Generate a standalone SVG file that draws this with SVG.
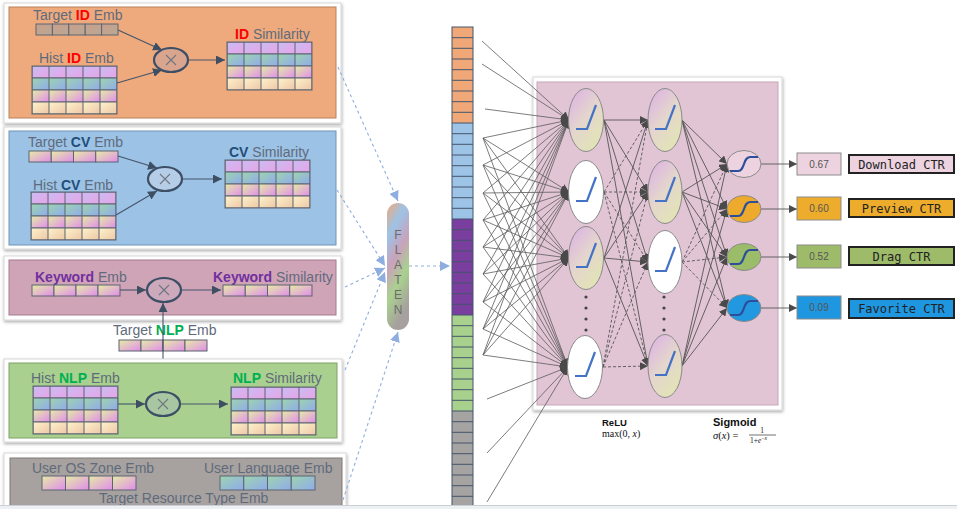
<svg xmlns="http://www.w3.org/2000/svg" width="957" height="509" viewBox="0 0 957 509">
<style>
  .lb{font-family:"Liberation Sans",Arial,sans-serif;font-size:14px;fill:#5f6b7c}
  .red{fill:#ff0000;font-weight:bold}
  .cv{fill:#1f4e79;font-weight:bold}
  .kw{fill:#7030a0;font-weight:bold}
  .nlp{fill:#00b050;font-weight:bold}
  .frame{fill:#ffffff;stroke:#d8d8d8;stroke-width:1}
  .cell{stroke:#5c6470;stroke-width:1}
  .mul{stroke:#3d4f66;stroke-width:2.2}
  .x{stroke:#6f7680;stroke-width:1.1;fill:none}
  .sl{stroke:#44546a;stroke-width:1.1;fill:none}
  .flow{stroke:#8eaee0;stroke-width:1.1;stroke-dasharray:3 3;fill:none}
  .in{stroke:#5c5c5c;stroke-width:0.8;fill:none}
  .hid{stroke:#555;stroke-width:0.9;fill:none}
  .dash{stroke-dasharray:3 2}
  .neu{stroke:#8a8a8a;stroke-width:1}
  .relu{stroke:#4472c4;stroke-width:2.2;fill:none}
  .sig{stroke:#2d4e9a;stroke-width:2.2;fill:none}
  .val{stroke:#8c8c8c;stroke-width:1}
  .vt{font-family:"Liberation Sans",Arial,sans-serif;font-size:10px;fill:#555;text-anchor:middle}
  .tag{stroke:#222;stroke-width:2}
  .tt{font-family:"DejaVu Sans Mono","Liberation Mono",monospace;font-size:12px;fill:#222;text-anchor:middle}
  .col{stroke:#44546a;stroke-width:1}
  .fl{font-family:"Liberation Sans",Arial,sans-serif;font-size:12px;fill:#6c6c6c;text-anchor:middle}
  .fm{font-family:"Liberation Serif","Times New Roman",serif;fill:#111}
</style>
<defs>
  <filter id="sh" x="-5%" y="-5%" width="110%" height="115%">
    <feDropShadow dx="0.5" dy="1.5" stdDeviation="1.5" flood-color="#000" flood-opacity="0.35"/>
  </filter>
  <linearGradient id="gA" x1="0" y1="0" x2="1" y2="1"><stop offset="0" stop-color="#c9bdf4"/><stop offset="1" stop-color="#e8a4e6"/></linearGradient>
  <linearGradient id="gB" x1="0" y1="0" x2="1" y2="1"><stop offset="0" stop-color="#9ed4ae"/><stop offset="1" stop-color="#8fabec"/></linearGradient>
  <linearGradient id="gC" x1="0" y1="0" x2="1" y2="1"><stop offset="0" stop-color="#e6eca6"/><stop offset="1" stop-color="#e08cea"/></linearGradient>
  <linearGradient id="gD" x1="0" y1="0" x2="1" y2="1"><stop offset="0" stop-color="#fdf3cb"/><stop offset="1" stop-color="#eec6a6"/></linearGradient>
  <linearGradient id="gT" x1="0" y1="0" x2="1" y2="1"><stop offset="0" stop-color="#c9a08c"/><stop offset="1" stop-color="#b8a894"/></linearGradient>
  <linearGradient id="gN" x1="0" y1="0" x2="0.7" y2="1"><stop offset="0" stop-color="#dcaee8"/><stop offset="0.55" stop-color="#e4d6cc"/><stop offset="1" stop-color="#e2e4b6"/></linearGradient>
  <linearGradient id="gPill" x1="0" y1="0" x2="0.3" y2="1">
    <stop offset="0" stop-color="#f0a878"/><stop offset="0.25" stop-color="#9dc3e6"/>
    <stop offset="0.5" stop-color="#c9a2bb"/><stop offset="0.72" stop-color="#a9d18e"/><stop offset="1" stop-color="#a6a09e"/>
  </linearGradient>
  <pattern id="grid" patternUnits="userSpaceOnUse" width="17" height="48">
    <rect x="0" y="0" width="17" height="12" fill="url(#gA)" class="cell"/>
    <rect x="0" y="12" width="17" height="12" fill="url(#gB)" class="cell"/>
    <rect x="0" y="24" width="17" height="12" fill="url(#gC)" class="cell"/>
    <rect x="0" y="36" width="17" height="12" fill="url(#gD)" class="cell"/>
  </pattern>
  <marker id="as" viewBox="0 0 10 10" refX="10" refY="5" markerWidth="9" markerHeight="9" markerUnits="userSpaceOnUse" orient="auto"><path d="M0,0 L10,5 L0,10 z" fill="#3f4f63"/></marker>
  <marker id="ab" viewBox="0 0 10 10" refX="10" refY="5" markerWidth="10" markerHeight="10" markerUnits="userSpaceOnUse" orient="auto"><path d="M0,0 L10,5 L0,10 z" fill="#8eaee0"/></marker>
  <marker id="ah" viewBox="0 0 10 10" refX="10" refY="5" markerWidth="8" markerHeight="8" markerUnits="userSpaceOnUse" orient="auto"><path d="M0,0 L10,5 L0,10 z" fill="#4a4a4a"/></marker>
</defs>

<rect width="957" height="509" fill="#ffffff"/>

<!-- ID similarity panel -->
<g id="panel-id">
  <rect class="frame" x="4" y="3" width="337" height="120" filter="url(#sh)"/>
  <rect x="9" y="7" width="327" height="111" fill="#eeaa7c" stroke="#b9805a" stroke-width="1"/>
  <text class="lb" x="33" y="20">Target <tspan class="red">ID</tspan> Emb</text>
  <g>
    <rect x="36" y="24" width="16.4" height="11" fill="url(#gT)" class="cell"/>
    <rect x="52.4" y="24" width="16.4" height="11" fill="url(#gT)" class="cell"/>
    <rect x="68.8" y="24" width="16.4" height="11" fill="url(#gT)" class="cell"/>
    <rect x="85.2" y="24" width="16.4" height="11" fill="url(#gT)" class="cell"/>
    <rect x="101.6" y="24" width="16.4" height="11" fill="url(#gT)" class="cell"/>
  </g>
  <text class="lb" x="39" y="63">Hist <tspan class="red">ID</tspan> Emb</text>
  <g transform="translate(32,66)"><rect width="85" height="48" fill="url(#grid)" class="cell"/></g>
  <ellipse class="mul" cx="171" cy="60" rx="17" ry="12" fill="#d9a58e"/>
  <path class="x" d="M166,55 L176,65 M176,55 L166,65"/>
  <text class="lb" x="235" y="39"><tspan class="red">ID</tspan> Similarity</text>
  <g transform="translate(227,42)"><rect width="85" height="48" fill="url(#grid)" class="cell"/></g>
  <line class="sl" x1="118" y1="30" x2="162" y2="50" marker-end="url(#as)"/>
  <line class="sl" x1="117" y1="83" x2="162" y2="70" marker-end="url(#as)"/>
  <line class="sl" x1="188" y1="60" x2="225" y2="60" marker-end="url(#as)"/>
</g>

<!-- CV similarity panel -->
<g id="panel-cv">
  <rect class="frame" x="4" y="127" width="337" height="122" filter="url(#sh)"/>
  <rect x="9" y="131" width="327" height="114" fill="#9cc2e5" stroke="#6f93b8" stroke-width="1"/>
  <text class="lb" x="28" y="147">Target <tspan class="cv">CV</tspan> Emb</text>
  <g>
    <rect x="29" y="151" width="22.25" height="11" fill="url(#gC)" class="cell"/>
    <rect x="51.25" y="151" width="22.25" height="11" fill="url(#gC)" class="cell"/>
    <rect x="73.5" y="151" width="22.25" height="11" fill="url(#gC)" class="cell"/>
    <rect x="95.75" y="151" width="22.25" height="11" fill="url(#gC)" class="cell"/>
  </g>
  <text class="lb" x="33" y="190">Hist <tspan class="cv">CV</tspan> Emb</text>
  <g transform="translate(31,192)"><rect width="85" height="48" fill="url(#grid)" class="cell"/></g>
  <ellipse class="mul" cx="165" cy="179" rx="17" ry="12" fill="#b6cde8"/>
  <path class="x" d="M160,174 L170,184 M170,174 L160,184"/>
  <text class="lb" x="229" y="157"><tspan class="cv">CV</tspan> Similarity</text>
  <g transform="translate(225,160)"><rect width="85" height="48" fill="url(#grid)" class="cell"/></g>
  <line class="sl" x1="118" y1="156" x2="157" y2="168" marker-end="url(#as)"/>
  <line class="sl" x1="116" y1="215" x2="157" y2="191" marker-end="url(#as)"/>
  <line class="sl" x1="182" y1="179" x2="222" y2="179" marker-end="url(#as)"/>
</g>

<!-- Keyword similarity panel -->
<g id="panel-keyword">
  <rect class="frame" x="4" y="256" width="337" height="64" filter="url(#sh)"/>
  <rect x="9" y="260" width="327" height="55" fill="#d0a4b7" stroke="#a67b8d" stroke-width="1"/>
  <text class="lb" x="35" y="282"><tspan class="kw">Keyword</tspan> Emb</text>
  <g>
    <rect x="32" y="285" width="22" height="11" fill="url(#gC)" class="cell"/>
    <rect x="54" y="285" width="22" height="11" fill="url(#gC)" class="cell"/>
    <rect x="76" y="285" width="22" height="11" fill="url(#gC)" class="cell"/>
    <rect x="98" y="285" width="22" height="11" fill="url(#gC)" class="cell"/>
  </g>
  <ellipse class="mul" cx="164" cy="290" rx="17" ry="12" fill="#cca9bb"/>
  <path class="x" d="M159,285 L169,295 M169,285 L159,295"/>
  <text class="lb" x="213" y="282"><tspan class="kw">Keyword</tspan> Similarity</text>
  <g>
    <rect x="223" y="285" width="22.25" height="11" fill="url(#gC)" class="cell"/>
    <rect x="245.25" y="285" width="22.25" height="11" fill="url(#gC)" class="cell"/>
    <rect x="267.5" y="285" width="22.25" height="11" fill="url(#gC)" class="cell"/>
    <rect x="289.75" y="285" width="22.25" height="11" fill="url(#gC)" class="cell"/>
  </g>
  <line class="sl" x1="120" y1="290" x2="146" y2="290" marker-end="url(#as)"/>
  <line class="sl" x1="181" y1="290" x2="221" y2="290" marker-end="url(#as)"/>
</g>

<!-- Target NLP embedding, shared by keyword and NLP branches -->
<g id="target-nlp">
  <text class="lb" x="113" y="335">Target <tspan class="nlp">NLP</tspan> Emb</text>
  <g>
    <rect x="119" y="340" width="22" height="11" fill="url(#gC)" class="cell"/>
    <rect x="141" y="340" width="22" height="11" fill="url(#gC)" class="cell"/>
    <rect x="163" y="340" width="22" height="11" fill="url(#gC)" class="cell"/>
    <rect x="185" y="340" width="22" height="11" fill="url(#gC)" class="cell"/>
  </g>
  <line class="sl" x1="163" y1="345" x2="163" y2="303" marker-end="url(#as)"/>
  <line class="sl" x1="163" y1="345" x2="163" y2="391" marker-end="url(#as)"/>
</g>

<!-- NLP similarity panel -->
<g id="panel-nlp">
  <rect class="frame" x="4" y="359" width="338" height="83" filter="url(#sh)"/>
  <rect x="9" y="363" width="328" height="75" fill="#a9d08e" stroke="#7fa266" stroke-width="1"/>
  <text class="lb" x="31" y="383">Hist <tspan class="nlp">NLP</tspan> Emb</text>
  <g transform="translate(33,386)"><rect width="85" height="48" fill="url(#grid)" class="cell"/></g>
  <ellipse class="mul" cx="163" cy="404" rx="17" ry="12" fill="#a9c6a2"/>
  <path class="x" d="M158,399 L168,409 M168,399 L158,409"/>
  <text class="lb" x="233" y="383"><tspan class="nlp">NLP</tspan> Similarity</text>
  <g transform="translate(231,387)"><rect width="85" height="48" fill="url(#grid)" class="cell"/></g>
  <line class="sl" x1="118" y1="404" x2="145" y2="404" marker-end="url(#as)"/>
  <line class="sl" x1="180" y1="404" x2="228" y2="404" marker-end="url(#as)"/>
</g>

<!-- user / resource embeddings panel -->
<g id="panel-user">
  <rect class="frame" x="4" y="453" width="342" height="62" filter="url(#sh)"/>
  <rect x="10" y="458" width="332" height="55" fill="#a7a2a0" stroke="#7f7a78" stroke-width="1"/>
  <text class="lb" x="32" y="473">User OS Zone Emb</text>
  <g>
    <rect x="42" y="476" width="23.5" height="14" fill="url(#gC)" class="cell"/>
    <rect x="65.5" y="476" width="23.5" height="14" fill="url(#gC)" class="cell"/>
    <rect x="89" y="476" width="23.5" height="14" fill="url(#gC)" class="cell"/>
    <rect x="112.5" y="476" width="23.5" height="14" fill="url(#gC)" class="cell"/>
  </g>
  <text class="lb" x="204" y="473">User Language Emb</text>
  <g>
    <rect x="220" y="476" width="23.75" height="14" fill="url(#gB)" class="cell"/>
    <rect x="243.75" y="476" width="23.75" height="14" fill="url(#gB)" class="cell"/>
    <rect x="267.5" y="476" width="23.75" height="14" fill="url(#gB)" class="cell"/>
    <rect x="291.25" y="476" width="23.75" height="14" fill="url(#gB)" class="cell"/>
  </g>
  <text class="lb" x="99" y="503" font-size="12.5">Target Resource Type Emb</text>
</g>

<!-- flatten node -->
<g id="flatten">
  <rect x="387" y="203" width="22" height="127" rx="11" fill="url(#gPill)"/>
  <text class="fl" x="398" y="239">F</text>
  <text class="fl" x="398" y="254">L</text>
  <text class="fl" x="398" y="269">A</text>
  <text class="fl" x="398" y="284">T</text>
  <text class="fl" x="398" y="299">E</text>
  <text class="fl" x="398" y="314">N</text>
</g>

<!-- flattened feature vector -->
<g id="feature-column">
  <rect x="452" y="27" width="21" height="96" fill="#f0a878"/>
  <rect x="452" y="123" width="21" height="96" fill="#9dc3e6"/>
  <rect x="452" y="219" width="21" height="96" fill="#7a3e9e"/>
  <rect x="452" y="315" width="21" height="96" fill="#a9d18e"/>
  <rect x="452" y="411" width="21" height="96" fill="#a6a3a3"/>
  <rect class="col" x="452" y="27" width="21" height="480" fill="none"/>
  <path class="col" d="M452,37.7H473M452,48.3H473M452,59H473M452,69.7H473M452,80.3H473M452,91H473M452,101.7H473M452,112.3H473M452,123H473
  M452,133.7H473M452,144.3H473M452,155H473M452,165.7H473M452,176.3H473M452,187H473M452,197.7H473M452,208.3H473M452,219H473
  M452,229.7H473M452,240.3H473M452,251H473M452,261.7H473M452,272.3H473M452,283H473M452,293.7H473M452,304.3H473M452,315H473
  M452,325.7H473M452,336.3H473M452,347H473M452,357.7H473M452,368.3H473M452,379H473M452,389.7H473M452,400.3H473M452,411H473
  M452,421.7H473M452,432.3H473M452,443H473M452,453.7H473M452,464.3H473M452,475H473M452,485.7H473M452,496.3H473"/>
</g>

<!-- network panel background -->
<g id="network-panel">
  <rect class="frame" x="533" y="77" width="249" height="333" filter="url(#sh)"/>
  <rect x="537" y="82" width="241" height="323" fill="#e2c5d5" stroke="#c6a6b7" stroke-width="1"/>
</g>

<g id="connectors">
  <!-- panels into the flatten node -->
  <line class="flow" x1="338" y1="67" x2="398" y2="201" marker-end="url(#ab)"/>
  <line class="flow" x1="337" y1="190" x2="385" y2="266" marker-end="url(#ab)"/>
  <line class="flow" x1="345" y1="287" x2="385" y2="268" marker-end="url(#ab)"/>
  <line class="flow" x1="345" y1="370" x2="385" y2="272" marker-end="url(#ab)"/>
  <line class="flow" x1="343" y1="500" x2="398" y2="332" marker-end="url(#ab)"/>
  <line class="flow" x1="409" y1="266" x2="450" y2="266" marker-end="url(#ab)"/>

  <!-- feature vector into first hidden layer -->
  <g class="in" marker-end="url(#ah)">
    <line x1="482" y1="41" x2="569" y2="120"/>
    <line x1="482" y1="64" x2="569" y2="120"/>
    <line x1="485" y1="109" x2="569" y2="120"/>
    <line x1="483" y1="138" x2="569" y2="120"/><line x1="483" y1="138" x2="569" y2="192"/><line x1="483" y1="138" x2="569" y2="258"/><line x1="483" y1="138" x2="568" y2="367"/>
    <line x1="483" y1="165" x2="569" y2="120"/><line x1="483" y1="165" x2="569" y2="192"/><line x1="483" y1="165" x2="569" y2="258"/><line x1="483" y1="165" x2="568" y2="367"/>
    <line x1="483" y1="193" x2="569" y2="120"/><line x1="483" y1="193" x2="569" y2="192"/><line x1="483" y1="193" x2="569" y2="258"/><line x1="483" y1="193" x2="568" y2="367"/>
    <line x1="483" y1="220" x2="569" y2="120"/><line x1="483" y1="220" x2="569" y2="192"/><line x1="483" y1="220" x2="569" y2="258"/><line x1="483" y1="220" x2="568" y2="367"/>
    <line x1="483" y1="247" x2="569" y2="120"/><line x1="483" y1="247" x2="569" y2="192"/><line x1="483" y1="247" x2="569" y2="258"/><line x1="483" y1="247" x2="568" y2="367"/>
    <line x1="483" y1="274" x2="569" y2="120"/><line x1="483" y1="274" x2="569" y2="192"/><line x1="483" y1="274" x2="569" y2="258"/><line x1="483" y1="274" x2="568" y2="367"/>
    <line x1="483" y1="302" x2="569" y2="120"/><line x1="483" y1="302" x2="569" y2="192"/><line x1="483" y1="302" x2="569" y2="258"/><line x1="483" y1="302" x2="568" y2="367"/>
    <line x1="483" y1="329" x2="569" y2="120"/><line x1="483" y1="329" x2="569" y2="192"/><line x1="483" y1="329" x2="569" y2="258"/><line x1="483" y1="329" x2="568" y2="367"/>
    <line x1="483" y1="355" x2="569" y2="120"/><line x1="483" y1="355" x2="569" y2="192"/><line x1="483" y1="355" x2="569" y2="258"/><line x1="483" y1="355" x2="568" y2="367"/>
    <line x1="487" y1="399" x2="568" y2="367"/>
    <line x1="487" y1="453" x2="568" y2="367"/>
    <line x1="487" y1="502" x2="568" y2="367"/>
  </g>

  <!-- hidden layer 1 to hidden layer 2 -->
  <g class="hid" marker-end="url(#ah)">
    <line x1="604" y1="120" x2="648" y2="120"/><line x1="604" y1="120" x2="648" y2="192"/><line x1="604" y1="120" x2="648" y2="262"/><line x1="604" y1="120" x2="648" y2="366"/>
    <line x1="604" y1="258" x2="648" y2="120"/><line x1="604" y1="258" x2="648" y2="192"/><line x1="604" y1="258" x2="648" y2="262"/><line x1="604" y1="258" x2="648" y2="366"/>
  </g>
  <g class="hid dash" marker-end="url(#ah)">
    <line x1="604" y1="192" x2="648" y2="120"/><line x1="604" y1="192" x2="648" y2="192"/><line x1="604" y1="192" x2="648" y2="262"/><line x1="604" y1="192" x2="648" y2="366"/>
    <line x1="603" y1="367" x2="648" y2="120"/><line x1="603" y1="367" x2="648" y2="192"/><line x1="603" y1="367" x2="648" y2="262"/><line x1="603" y1="367" x2="648" y2="366"/>
  </g>

  <!-- hidden layer 2 to outputs -->
  <g class="hid" marker-end="url(#ah)">
    <line x1="682" y1="120" x2="727" y2="164"/><line x1="682" y1="120" x2="727" y2="209"/><line x1="682" y1="120" x2="727" y2="257"/><line x1="682" y1="120" x2="727" y2="308"/>
    <line x1="682" y1="192" x2="727" y2="164"/><line x1="682" y1="192" x2="727" y2="209"/><line x1="682" y1="192" x2="727" y2="257"/><line x1="682" y1="192" x2="727" y2="308"/>
    <line x1="682" y1="366" x2="727" y2="164"/><line x1="682" y1="366" x2="727" y2="209"/><line x1="682" y1="366" x2="727" y2="257"/><line x1="682" y1="366" x2="727" y2="308"/>
  </g>
  <g class="hid dash" marker-end="url(#ah)">
    <line x1="682" y1="262" x2="727" y2="164"/><line x1="682" y1="262" x2="727" y2="209"/><line x1="682" y1="262" x2="727" y2="257"/><line x1="682" y1="262" x2="727" y2="308"/>
  </g>

  <!-- outputs to scores -->
  <g class="hid" marker-end="url(#ah)">
    <line x1="761" y1="164" x2="797" y2="164"/>
    <line x1="761" y1="209" x2="797" y2="209"/>
    <line x1="761" y1="257" x2="797" y2="257"/>
    <line x1="761" y1="308" x2="797" y2="308"/>
  </g>
</g>

<!-- hidden layer 1 (ReLU) -->
<g id="h1-1"><ellipse class="neu" cx="586" cy="120" rx="17.5" ry="31.5" fill="url(#gN)"/><path class="relu" d="M576,129 H587 L596,105"/></g>
<g id="h1-2"><ellipse class="neu" cx="586" cy="192" rx="17.5" ry="31.5" fill="#ffffff"/><path class="relu" d="M576,201 H587 L596,177"/></g>
<g id="h1-3"><ellipse class="neu" cx="586" cy="258" rx="17.5" ry="31.5" fill="url(#gN)"/><path class="relu" d="M576,267 H587 L596,243"/></g>
<g id="h1-dots" fill="#444"><circle cx="586" cy="297" r="1.6"/><circle cx="586" cy="308" r="1.6"/><circle cx="586" cy="319" r="1.6"/><circle cx="586" cy="330" r="1.6"/></g>
<g id="h1-4"><ellipse class="neu" cx="585" cy="367" rx="17.5" ry="31.5" fill="#ffffff"/><path class="relu" d="M575,376 H586 L595,352"/></g>

<!-- hidden layer 2 (ReLU) -->
<g id="h2-1"><ellipse class="neu" cx="665" cy="120" rx="17" ry="31.5" fill="url(#gN)"/><path class="relu" d="M655,129 H666 L675,105"/></g>
<g id="h2-2"><ellipse class="neu" cx="665" cy="192" rx="17" ry="31.5" fill="url(#gN)"/><path class="relu" d="M655,201 H666 L675,177"/></g>
<g id="h2-3"><ellipse class="neu" cx="665" cy="262" rx="17" ry="31.5" fill="#ffffff"/><path class="relu" d="M655,271 H666 L675,247"/></g>
<g id="h2-dots" fill="#444"><circle cx="664" cy="297" r="1.6"/><circle cx="664" cy="308" r="1.6"/><circle cx="664" cy="319" r="1.6"/><circle cx="664" cy="330" r="1.6"/></g>
<g id="h2-4"><ellipse class="neu" cx="665" cy="366" rx="17" ry="31.5" fill="url(#gN)"/><path class="relu" d="M655,375 H666 L675,351"/></g>

<!-- output units (sigmoid) -->
<g id="out-1"><ellipse class="neu" cx="744" cy="164" rx="17" ry="13.5" fill="#ecd3df"/><path class="sig" d="M730,171 H738 C745,171 743,157 750,157 H758"/></g>
<g id="out-2"><ellipse class="neu" cx="744" cy="209" rx="17" ry="13.5" fill="#eeaa2c"/><path class="sig" d="M730,216 H738 C745,216 743,202 750,202 H758"/></g>
<g id="out-3"><ellipse class="neu" cx="744" cy="257" rx="17" ry="13.5" fill="#9bbd69"/><path class="sig" d="M730,264 H738 C745,264 743,250 750,250 H758"/></g>
<g id="out-4"><ellipse class="neu" cx="744" cy="308" rx="17" ry="13.5" fill="#2198e0"/><path class="sig" d="M730,315 H738 C745,315 743,301 750,301 H758"/></g>

<!-- scores and task names -->
<g id="download">
  <rect class="val" x="797" y="153" width="44" height="22" fill="#ecd3df"/><text class="vt" x="819" y="168">0.67</text>
  <rect class="tag" x="849" y="155" width="105" height="18" fill="#ecd3df"/><text class="tt" x="901.5" y="168.5">Download CTR</text>
</g>
<g id="preview">
  <rect class="val" x="797" y="197" width="44" height="23" fill="#eeac2c"/><text class="vt" x="819" y="212">0.60</text>
  <rect class="tag" x="849" y="199" width="105" height="18" fill="#eeac2c"/><text class="tt" x="901.5" y="212.5">Preview CTR</text>
</g>
<g id="drag">
  <rect class="val" x="797" y="245" width="44" height="23" fill="#9dbb69"/><text class="vt" x="819" y="260">0.52</text>
  <rect class="tag" x="849" y="247" width="105" height="18" fill="#9dbb69"/><text class="tt" x="901.5" y="260.5">Drag CTR</text>
</g>
<g id="favorite">
  <rect class="val" x="797" y="296" width="44" height="23" fill="#1f96e0"/><text class="vt" x="819" y="311">0.09</text>
  <rect class="tag" x="849" y="299" width="105" height="19" fill="#1f96e0"/><text class="tt" x="901.5" y="313">Favorite CTR</text>
</g>

<!-- activation legends -->
<g id="legend-relu">
  <text x="602" y="426" font-family="Liberation Sans, Arial, sans-serif" font-size="9.5" font-weight="bold" fill="#111">ReLU</text>
  <text class="fm" x="602" y="437" font-size="10">max(0, <tspan font-style="italic">x</tspan>)</text>
</g>
<g id="legend-sigmoid">
  <text x="713" y="426" font-family="Liberation Sans, Arial, sans-serif" font-size="11" font-weight="bold" fill="#111">Sigmoid</text>
  <text class="fm" x="713" y="439" font-size="10.5"><tspan font-style="italic">σ</tspan>(<tspan font-style="italic">x</tspan>) =</text>
  <text class="fm" x="762" y="433" font-size="7.5" text-anchor="middle">1</text>
  <line x1="749" y1="435" x2="776" y2="435" stroke="#111" stroke-width="0.6"/>
  <text class="fm" x="750" y="442.5" font-size="7.5">1+<tspan font-style="italic">e</tspan><tspan font-size="5.5" dy="-3">−<tspan font-style="italic">x</tspan></tspan></text>
</g>

<!-- bottom strip -->
<rect x="0" y="505" width="957" height="4" fill="#eef1f4"/>
<line x1="0" y1="505.5" x2="957" y2="505.5" stroke="#c9cfd6" stroke-width="1"/>
</svg>
